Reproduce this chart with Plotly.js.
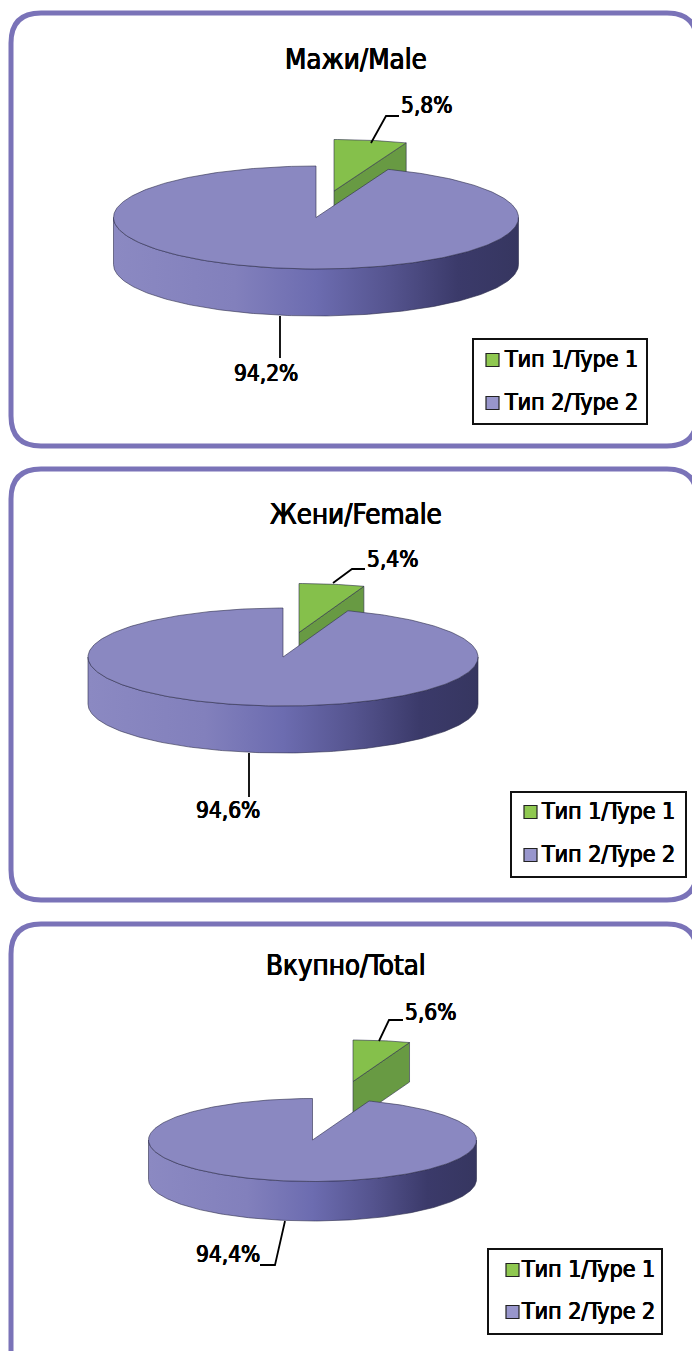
<!DOCTYPE html>
<html><head><meta charset="utf-8">
<script src="https://cdn.plot.ly/plotly-3.0.1.min.js"></script>
<style>html,body{margin:0;padding:0;background:#fff}#c{width:692px;height:1351px}</style>
</head><body><div id="c"></div>
<script>
// ---- data ----
const panelTitles = ['Мажи/Male', 'Жени/Female', 'Вкупно/Total'];
const categories = ['Тип 1/Type 1', 'Тип 2/Type 2'];
const type1Share = [5.8, 5.4, 5.6];
const type2Share = [94.2, 94.6, 94.4];
const type1Labels = ['5,8%', '5,4%', '5,6%'];
const type2Labels = ['94,2%', '94,6%', '94,4%'];

// ---- layout of each panel, in page pixels ----
const FONT = '"DejaVu Sans Condensed","DejaVu Sans","Noto Sans",sans-serif';
const HEAVY = '0.45px 0 0 #000, -0.45px 0 0 #000, 0 0.3px 0 #000';
const panels = [
  {top:13, bottom:446, titleX:356, titleY:59,
   cx:316, cy:217.5, rx:202.5, ry:51.5, depth:47, ox:18, oy:-26.5,
   lab1:[399,105], lead1:[[371,143],[386,116],[399,116]],
   lab2:[266,373], lead2:[[280,316],[280,358]],
   box:[473,339,647,424], sw:486, txt:502, rows:[360,403]},
  {top:469, bottom:900, titleX:356, titleY:514,
   cx:283, cy:657, rx:195, ry:49, depth:47, ox:16, oy:-24.5,
   lab1:[365,559], lead1:[[333,583],[352,569],[365,569]],
   lab2:[228,810], lead2:[[249,753],[249,797]],
   box:[511,792,686,877], sw:524, txt:539, rows:[812,855]},
  {top:924, bottom:1400, titleX:346, titleY:965,
   cx:312.5, cy:1140, rx:164, ry:41.5, depth:39.5, ox:40.5, oy:-58.5,
   lab1:[403,1012], lead1:[[379,1041],[389,1020],[403,1020]],
   lab2:[228,1254], lead2:[[285,1221],[275,1265],[260,1265]],
   box:[488,1249,662,1334], sw:506, txt:519, rows:[1270,1312]}
];
const C = {border:'#7a73b8', top2:'#8a88c1', top1:'#85c04b', side1:'#689a43', edge:'rgba(45,45,75,0.75)'};
const wallScale = [[0,'#8b89c2'],[0.3,'#8280bc'],[0.5,'#6c6cb0'],[0.68,'#55548f'],[0.85,'#3b3a6a'],[1,'#363660']];

function rim(p, deg, dx, dy, drop){
  const t = deg*Math.PI/180;
  return [p.cx+dx+p.rx*Math.sin(t), p.cy+dy-p.ry*Math.cos(t)+drop];
}
function arc(p, from, to, dx, dy, drop){
  const out=[]; const n=Math.max(2,Math.ceil(Math.abs(to-from)));
  for(let i=0;i<=n;i++) out.push(rim(p, from+(to-from)*i/n, dx, dy, drop));
  return out;
}
function poly(pts, fill, extra){
  return Object.assign({type:'scatter', mode:'lines', x:pts.map(q=>q[0]), y:pts.map(q=>q[1]),
    fill:'toself', fillcolor:fill, line:{color:C.edge,width:0.8}, hoverinfo:'skip', showlegend:false}, extra||{});
}

const traces=[], shapes=[], annotations=[];
const ann=(x,y,text,size,anchor)=>annotations.push({x,y,text,xref:'x',yref:'y',xanchor:anchor,yanchor:'middle',showarrow:false,
  font:{family:FONT,size,color:'#000',shadow:HEAVY}});

panels.forEach((p,i)=>{
  // rounded panel frame (its right side runs off the page)
  const l=11,r=697,R=30,t=p.top,b=p.bottom;
  shapes.push({type:'path',xref:'x',yref:'y',line:{color:C.border,width:5},fillcolor:'rgba(0,0,0,0)',
    path:`M${l+R},${t} L${r-R},${t} Q${r},${t} ${r},${t+R} L${r},${b-R} Q${r},${b} ${r-R},${b} L${l+R},${b} Q${l},${b} ${l},${b-R} L${l},${t+R} Q${l},${t} ${l+R},${t} Z`});

  const a = type1Share[i]/(type1Share[i]+type2Share[i])*360;
  const apex=[p.cx+p.ox,p.cy+p.oy], apexLow=[apex[0],apex[1]+p.depth];
  // type 1: lifted wedge, cut face then top face
  traces.push(poly([apex, rim(p,a,p.ox,p.oy,0), rim(p,a,p.ox,p.oy,p.depth), apexLow, apex], C.side1));
  traces.push(poly([apex].concat(arc(p,0,a,p.ox,p.oy,0),[apex]), C.top1));
  // type 2: front wall with its shading, then top face
  traces.push(poly(arc(p,90,270,0,0,0).concat(arc(p,270,90,0,0,p.depth),[rim(p,90,0,0,0)]), C.top2,
    {fillgradient:{type:'horizontal',colorscale:wallScale}}));
  traces.push(poly([[p.cx,p.cy]].concat(arc(p,a,360,0,0,0),[[p.cx,p.cy]]), C.top2));

  ann(p.titleX,p.titleY,panelTitles[i],27.5,'center');
  ann(p.lab1[0],p.lab1[1],type1Labels[i],22.5,'left');
  ann(p.lab2[0],p.lab2[1],type2Labels[i],22.5,'center');
  [p.lead1,p.lead2].forEach(L=>shapes.push({type:'path',xref:'x',yref:'y',line:{color:'#000',width:1.8},
    path:'M'+L.map(q=>q.join(',')).join(' L')}));

  // legend box
  shapes.push({type:'rect',xref:'x',yref:'y',x0:p.box[0],y0:p.box[1],x1:p.box[2],y1:p.box[3],
    line:{color:'#111',width:2},fillcolor:'#fff'});
  categories.forEach((c,k)=>{
    shapes.push({type:'rect',xref:'x',yref:'y',x0:p.sw,x1:p.sw+13,y0:p.rows[k]-6.5,y1:p.rows[k]+6.5,
      line:{color:'#222',width:1.2},fillcolor:k===0?'#8fc850':'#9896cc'});
    ann(p.txt,p.rows[k]-1,c,23,'left');
  });
});

const hidden=r=>({range:r,visible:false,fixedrange:true,showgrid:false,zeroline:false});
Plotly.newPlot('c',traces,{
  width:692,height:1351,margin:{l:0,r:0,t:0,b:0},
  paper_bgcolor:'#fff',plot_bgcolor:'#fff',showlegend:false,
  xaxis:hidden([0,692]),yaxis:hidden([1351,0]),
  shapes,annotations
},{displayModeBar:false,staticPlot:true});
</script></body></html>
